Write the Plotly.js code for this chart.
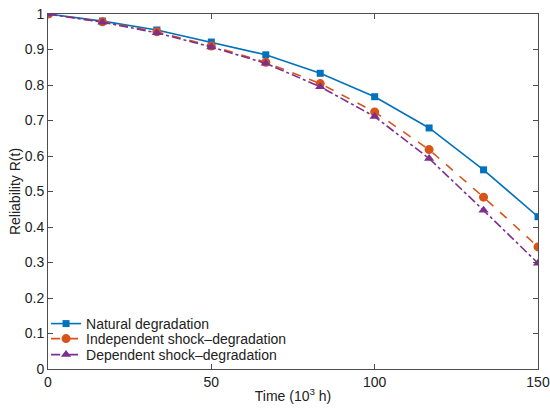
<!DOCTYPE html>
<html>
<head>
<meta charset="utf-8">
<script src="https://cdn.plot.ly/plotly-3.0.1.min.js"></script>
<style>html,body{margin:0;padding:0;background:#fff;}</style>
</head>
<body>
<div id="chart" style="width:550px;height:419px;"></div>
<script>
var time = [0, 16.667, 33.333, 50, 66.667, 83.333, 100, 116.667, 133.333, 150];
var natural = [1, 0.980, 0.955, 0.921, 0.885, 0.833, 0.767, 0.679, 0.561, 0.429];
var independent = [1, 0.978, 0.950, 0.910, 0.864, 0.804, 0.724, 0.618, 0.484, 0.344];
var dependent = [1, 0.977, 0.947, 0.907, 0.861, 0.795, 0.711, 0.593, 0.447, 0.298];
var seriesNames = ['Natural degradation', 'Independent shock\u2013degradation', 'Dependent shock\u2013degradation'];
var xTicks = [0, 50, 100, 150];
var yTicks = [0, 0.1, 0.2, 0.3, 0.4, 0.5, 0.6, 0.7, 0.8, 0.9, 1];
var yTickText = ['0', '0.1', '0.2', '0.3', '0.4', '0.5', '0.6', '0.7', '0.8', '0.9', '1'];

var FONT = 'Liberation Sans, Arial, Helvetica, sans-serif';

var traces = [
  {x: time, y: natural, name: seriesNames[0], mode: 'lines+markers', legend: 'legend',
   line: {color: '#0072BD', width: 1.6, dash: 'solid'},
   marker: {symbol: 'square', size: 7, color: '#0072BD'}},
  {x: time, y: independent, name: seriesNames[1], mode: 'lines+markers', legend: 'legend2',
   line: {color: '#D95319', width: 1.6, dash: 'dash'},
   marker: {symbol: 'circle', size: 9, color: '#D95319'}},
  {x: time, y: dependent, name: seriesNames[2], mode: 'lines+markers', legend: 'legend3',
   line: {color: '#7E2F8E', width: 1.6, dash: 'dashdot'},
   marker: {symbol: 'triangle-up', size: 9, color: '#7E2F8E'}}
];

var axisCommon = {
  showline: true, mirror: 'ticks', linecolor: '#4d4d4d', linewidth: 1,
  ticks: 'inside', ticklen: 5, tickcolor: '#4d4d4d', showgrid: false, zeroline: false,
  tickfont: {family: FONT, size: 14, color: '#222'}
};

function legendAt(y) {
  return {x: -0.004, y: y, xanchor: 'left', yanchor: 'middle',
    bgcolor: 'rgba(255,255,255,0)', borderwidth: 0, itemwidth: 30,
    font: {family: FONT, size: 14, color: '#222'}};
}

var layout = {
  width: 550, height: 419, autosize: false,
  paper_bgcolor: '#fff', plot_bgcolor: '#fff',
  margin: {l: 48, r: 12, t: 14, b: 50},
  font: {family: FONT, size: 14, color: '#222'},
  xaxis: Object.assign({}, axisCommon, {
    range: [0, 150], tickvals: xTicks, ticktext: xTicks.map(String),
    title: {text: 'Time (10<sup>3</sup> h)', standoff: 2, font: {family: FONT, size: 14, color: '#222'}}
  }),
  yaxis: Object.assign({}, axisCommon, {
    range: [0, 1], tickvals: yTicks, ticktext: yTickText,
    title: {text: 'Reliability R(t)', standoff: 0, font: {family: FONT, size: 14, color: '#222'}}
  }),
  showlegend: true,
  legend: legendAt(0.1268),
  legend2: legendAt(0.0845),
  legend3: legendAt(0.0394)
};

Plotly.newPlot('chart', traces, layout, {displayModeBar: false, staticPlot: true});
</script>
</body>
</html>
